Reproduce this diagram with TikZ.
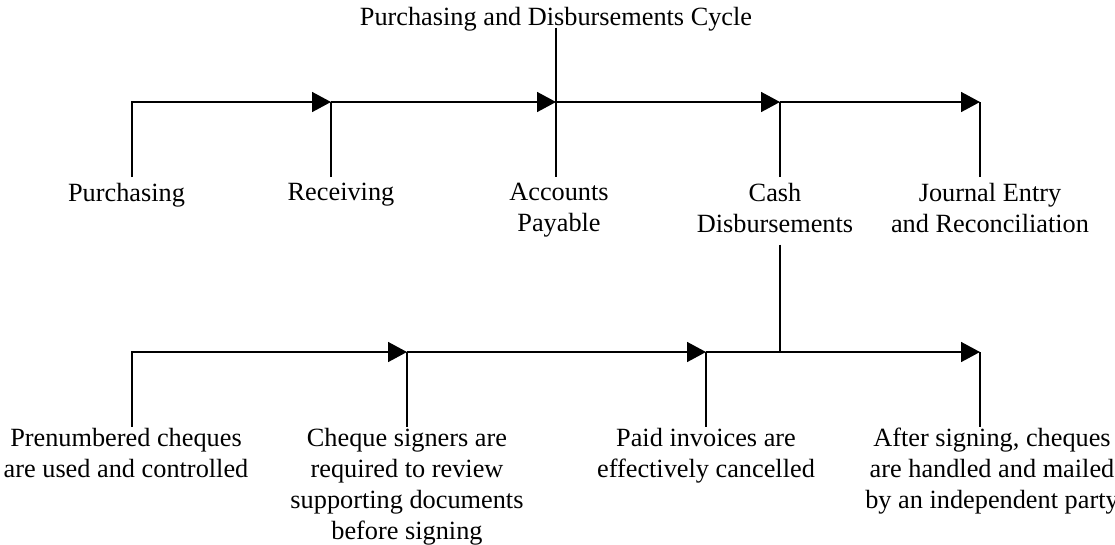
\documentclass[tikz,border=0pt]{standalone}
\usepackage{fontspec}
\setmainfont{Liberation Serif}
\usetikzlibrary{arrows.meta,calc}
\begin{document}
\begin{tikzpicture}[x=1pt,y=-1pt,
  line width=1.6pt,
  lbl/.style={font=\fontsize{26.3}{31}\selectfont, align=center, inner xsep=0pt, outer sep=0pt},
  toplbl/.style={lbl, anchor=north, inner ysep=6pt},
  botlbl/.style={lbl, anchor=north, inner ysep=1.5pt},
  flow/.style={-{Triangle[length=19pt,width=20pt]}}]
\useasboundingbox (0,0) rectangle (1115,544);

% title
\node[lbl, anchor=base, inner ysep=0pt, text depth=2.5pt] (title) at (556,25) {Purchasing and Disbursements Cycle};

% junctions on the two timelines
\coordinate (j1) at (132,102);
\coordinate (j2) at (331,102);
\coordinate (j3) at (556,102);
\coordinate (j4) at (780,102);
\coordinate (j5) at (980,102);
\coordinate (k1) at (132,352);
\coordinate (k2) at (407,352);
\coordinate (k3) at (706,352);
\coordinate (k4) at (780,352);
\coordinate (k5) at (980,352);

% stages of the cycle
\node[toplbl] (purch) at (126.5,177) {Purchasing};
\node[toplbl] (recv)  at (341,177) {Receiving};
\node[toplbl] (acc)   at (559,177) {Accounts\\Payable};
\node[toplbl] (cash)  at (775,177) {Cash\\Disbursements};
\node[toplbl] (jour)  at (990,177) {Journal Entry\\and Reconciliation};

% cash disbursement controls
\node[botlbl] (pre)   at (126,426.5) {Prenumbered cheques\\are used and controlled};
\node[botlbl] (sign)  at (407,426.5) {Cheque signers are\\required to review\\supporting documents\\before signing};
\node[botlbl] (paid)  at (706,426.5) {Paid invoices are\\effectively cancelled};
\node[botlbl] (after) at (992,426.5) {After signing, cheques\\are handled and mailed\\by an independent party};

% upper timeline
\draw[flow] (purch.north -| j1) |- (j2);
\draw (recv.north -| j2) -- (j2);
\draw[flow] (j2) -- (j3);
\draw (title.south) -- (acc.north -| title.south);
\draw[flow] (j3) -- (j4);
\draw (cash.north -| j4) -- (j4);
\draw[flow] (j4) -- (j5);
\draw (jour.north -| j5) -- (j5);

% lower timeline
\draw ($(cash.south -| k4)+(0,6)$) -- (k4);
\draw[flow] (pre.north -| k1) |- (k2);
\draw (sign.north -| k2) -- (k2);
\draw[flow] (k2) -- (k3);
\draw (paid.north -| k3) -- (k3);
\draw[flow] (k3) -- (k5);
\draw (after.north -| k5) -- (k5);
\end{tikzpicture}
\end{document}
